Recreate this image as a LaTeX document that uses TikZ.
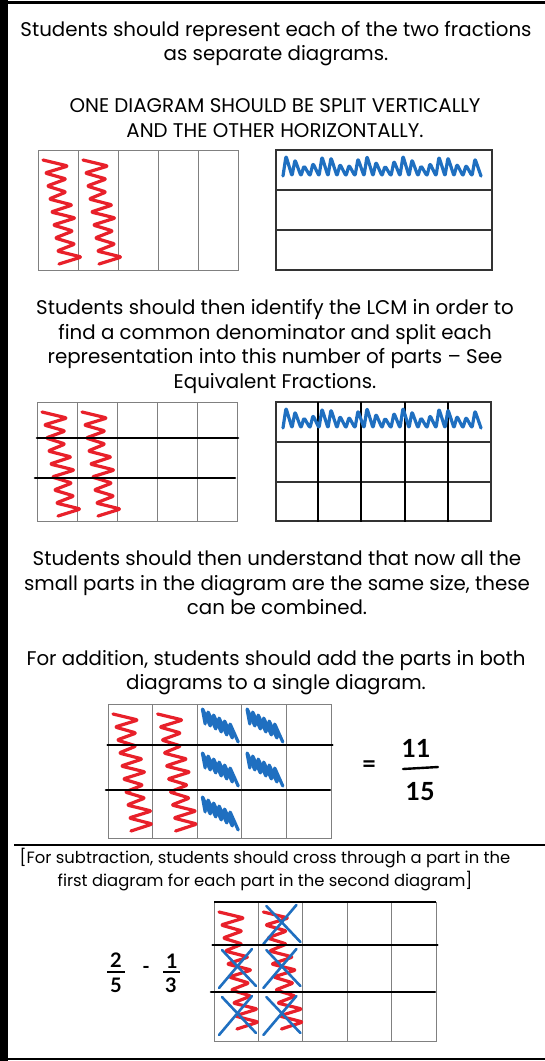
\documentclass[tikz,border=0pt]{standalone}
\usepackage{fontspec}
\setmainfont{Poppins}
\newfontfamily\handfont{Lato}
\usetikzlibrary{positioning}
\definecolor{penred}{HTML}{E8202A}
\definecolor{penblue}{HTML}{1F6FC0}
\tikzset{
  txt/.style={align=center, font=\fontsize{19.8}{24.5}\selectfont, inner sep=0pt},
  smalltxt/.style={align=center, font=\fontsize{16.4}{23}\selectfont, inner sep=0pt},
  hand/.style={font=\handfont\bfseries\fontsize{25}{25}\selectfont, inner sep=0pt},
  handb/.style={font=\handfont\bfseries\fontsize{20}{20}\selectfont, inner sep=0pt},
  cell/.style={draw=black!50, line width=1pt},
  thickline/.style={draw=black, line width=2.6pt, line cap=round},
  redpen/.style={draw=penred, line width=3.2pt, line cap=round, line join=round, rounded corners=2pt},
  bluepen/.style={draw=penblue, line width=3.2pt, line cap=round, line join=round, rounded corners=2pt},
  crosspen/.style={draw=penblue, line width=2.6pt, line cap=round},
}
% a box split into five columns
\newcommand{\colgrid}[4]{%
  \draw[cell] (#1,#2) rectangle (#3,#4);
  \foreach \c in {1,...,4}
    \draw[cell] ({#1+\c*(#3-#1)/5},#2) -- ({#1+\c*(#3-#1)/5},#4);}
% red vertical scribble in one column
\newcommand{\redzig}[3]{%
  \draw[redpen] (#1+5,#2+10) \foreach \k in {1,...,#3}{
    -- ++({22+3*sin(\k*97)},6) -- ++({-20-3*sin(\k*97)},7)};}
% blue scribble along a row
\newcommand{\bluerow}[3]{%
  \draw[bluepen] (#1+7,#2+26) \foreach \k in {1,...,#3}{
    -- ++(3,{-15-5*sin(\k*83)}) -- ++(6,{15+5*sin(\k*83)})};}
% blue scribble in one cell
\newcommand{\bluecell}[2]{%
  \draw[bluepen] (#1+8,#2+20) \foreach \k in {1,...,6}{ -- ++(-3,-16) -- ++(8.5,19)};}
% blue cross in one cell
\newcommand{\cross}[2]{%
  \draw[crosspen] (#1+8,#2+4) -- (#1+42,#2+40);
  \draw[crosspen] (#1+38,#2+3) -- (#1+5,#2+42);}

\begin{document}
\begin{tikzpicture}[x=1pt, y=-1pt]
\useasboundingbox (0,0) rectangle (545,1061);
% frame
\fill[black] (0,0) rectangle (8,1061);
\draw[line width=3pt] (8,2.5) -- (545,2.5);
\draw[line width=2.5pt] (8,1059) -- (545,1059);
\draw[line width=2pt] (14,845) -- (545,845);

% texts
\node[txt] (intro) at (276,43.5) {Students should represent each of the two fractions\\as separate diagrams.};
\node[txt] (split) at (275,118) {ONE DIAGRAM SHOULD BE SPLIT VERTICALLY\\AND THE OTHER HORIZONTALLY.};
\node[txt] (lcm) at (275,346.5) {Students should then identify the LCM in order to\\find a common denominator and split each\\representation into this number of parts -- See\\Equivalent Fractions.};
\node[txt] (same) at (277,583) {Students should then understand that now all the\\small parts in the diagram are the same size, these\\can be combined.};
\node[txt] (add) at (276,672.5) {For addition, students should add the parts in both\\diagrams to a single diagram.};
\node[smalltxt] (sub) at (265,869.5) {[For subtraction, students should cross through a part in the\\first diagram for each part in the second diagram]};

% first pair
\colgrid{38}{150}{238}{270}
\redzig{38}{150}{8}
\redzig{78}{150}{8}
\draw[black!80, line width=1.2pt] (276,150) rectangle (492,270);
\draw[black!80, line width=1.2pt] (276,190) -- (492,190);
\draw[black!80, line width=1.2pt] (276,230) -- (492,230);
\bluerow{276}{150}{22}

% second pair
\colgrid{37}{402}{237}{521}
\redzig{37}{402}{8}
\redzig{77}{402}{8}
\draw[thickline] (37,438) -- (238,438);
\draw[thickline] (35,478) -- (235,478);
\draw[black!80, line width=1.2pt] (276,402) rectangle (491,521);
\draw[black!80, line width=1.2pt] (276,442) -- (491,442);
\draw[black!80, line width=1.2pt] (276,482) -- (491,482);
\foreach \vx in {318,361,405,448}
  \draw[black, line width=2pt] (\vx,402) -- (\vx,522);
\bluerow{276}{402}{22}

% addition
\colgrid{108}{704}{331}{838}
\redzig{108}{704}{9}
\redzig{152.6}{704}{9}
\foreach \cx/\cy in {197.2/704, 241.8/704, 197.2/748, 241.8/748, 197.2/792}
  \bluecell{\cx}{\cy}
\draw[thickline] (108,745) -- (332,745);
\draw[thickline] (106,790) -- (330,790);
\node[hand] (eq) at (369,767) {=};
\node[hand] (num) at (416,748) {11};
\node[hand] (den) at (420,792) {15};
\draw[line width=2.4pt, line cap=round] (403,769) -- (438,767);

% subtraction
\colgrid{214}{902}{436}{1041}
\draw[black, line width=1.6pt] (214,902) -- (436,902);
\redzig{214}{902}{9}
\redzig{258.4}{902}{9}
\foreach \cx/\cy in {258.4/902, 214/946, 258.4/946, 214/993, 258.4/993}
  \cross{\cx}{\cy}
\draw[thickline] (213,945) -- (437,945);
\draw[thickline] (211,992) -- (435,992);
\node[handb] (two) at (116,960) {2};
\node[handb] (five) at (116,985) {5};
\draw[line width=2.2pt] (107,972) -- (125,972);
\node[handb] (minus) at (146,970) {-};
\node[handb] (one) at (172,961) {1};
\node[handb] (three) at (171,985) {3};
\draw[line width=2.2pt] (163,972) -- (180,972);
\end{tikzpicture}
\end{document}
